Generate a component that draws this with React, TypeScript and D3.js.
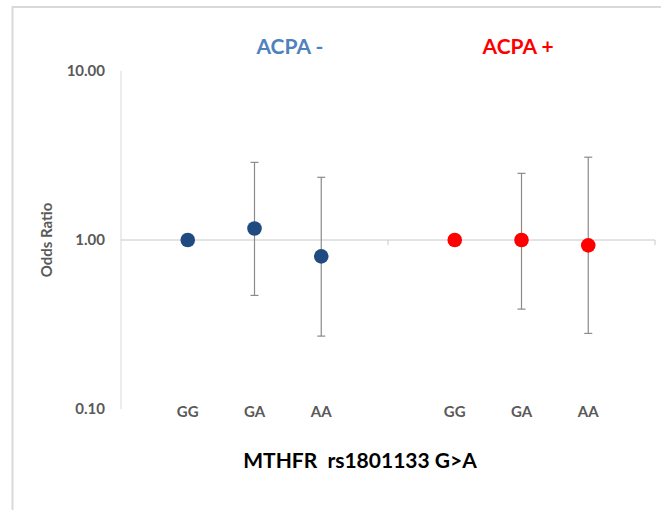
import React from "react";
import * as d3 from "d3";

const categories = ["GG", "GA", "AA"];
const groups = ["ACPA -", "ACPA +"];
const acpaNegOR = [1.0, 1.17, 0.8];
const acpaNegLow: (number | null)[] = [null, 0.47, 0.27];
const acpaNegHigh: (number | null)[] = [null, 2.88, 2.35];
const acpaPosOR = [1.0, 1.0, 0.93];
const acpaPosLow: (number | null)[] = [null, 0.39, 0.28];
const acpaPosHigh: (number | null)[] = [null, 2.48, 3.09];
const yTicks = [0.1, 1, 10];
const xSeparators = [4, 8];

const W = 661;
const H = 510;
const FONT = "Lato, 'Open Sans', sans-serif";

export default function App() {
  const x = d3.scaleLinear().domain([0, 8]).range([121, 655]);
  const y = d3.scaleLog().domain([0.1, 10]).range([409, 71]);

  const series = [
    { or: acpaNegOR, low: acpaNegLow, high: acpaNegHigh, offset: 1, titleAt: 2.53, color: "#1f4b80", title: groups[0], titleColor: "#4f81bd" },
    { or: acpaPosOR, low: acpaPosLow, high: acpaPosHigh, offset: 5, titleAt: 5.95, color: "#ff0000", title: groups[1], titleColor: "#ff0000" },
  ];

  return (
    <svg width={W} height={H} style={{ position: "absolute", left: 0, top: 0, background: "#fff" }}>
      <path d={`M12.5,${H} L12.5,7 L${W},7`} fill="none" stroke="#d9d9d9" strokeWidth={2} />

      <line x1={x(0)} x2={x(0)} y1={y(10)} y2={y(0.1)} stroke="#d9d9d9" strokeWidth={1} />
      <line x1={x(0)} x2={x(8)} y1={y(1)} y2={y(1)} stroke="#c8c8c8" strokeWidth={1} />
      {xSeparators.map((s) => (
        <line key={s} x1={x(s)} x2={x(s)} y1={y(1)} y2={y(1) + 5} stroke="#c8c8c8" strokeWidth={1} />
      ))}

      {yTicks.map((t) => (
        <text key={t} x={105} y={y(t)} dy="0.35em" textAnchor="end" fontFamily={FONT} fontWeight="bold" fontSize={15} fill="#595959">
          {d3.format(".2f")(t)}
        </text>
      ))}
      <text transform={`translate(47,${y(1)}) rotate(-90)`} textAnchor="middle" dy="0.35em" fontFamily={FONT} fontWeight="bold" fontSize={15} fill="#595959">
        Odds Ratio
      </text>

      {series.map((s, si) => (
        <g key={si}>
          <text x={x(s.titleAt)} y={54} textAnchor="middle" fontFamily={FONT} fontWeight="bold" fontSize={21} fill={s.titleColor}>
            {s.title}
          </text>
          {categories.map((c, i) => {
            const cx = x(s.offset + i);
            const lo = s.low[i];
            const hi = s.high[i];
            return (
              <g key={c}>
                {lo != null && hi != null && (
                  <g stroke="#8a8a8a" strokeWidth={1.2}>
                    <line x1={cx} x2={cx} y1={y(lo)} y2={y(hi)} />
                    <line x1={cx - 4} x2={cx + 4} y1={y(lo)} y2={y(lo)} />
                    <line x1={cx - 4} x2={cx + 4} y1={y(hi)} y2={y(hi)} />
                  </g>
                )}
                <circle cx={cx} cy={y(s.or[i])} r={7.3} fill={s.color} />
                <text x={cx} y={412} dy="0.35em" textAnchor="middle" fontFamily={FONT} fontWeight="bold" fontSize={15} fill="#595959">
                  {c}
                </text>
              </g>
            );
          })}
        </g>
      ))}

      <text x={360} y={468} textAnchor="middle" fontFamily={FONT} fontWeight="bold" fontSize={21} fill="#000" style={{ whiteSpace: "pre" }}>
        {"MTHFR  rs1801133 G>A"}
      </text>
    </svg>
  );
}
